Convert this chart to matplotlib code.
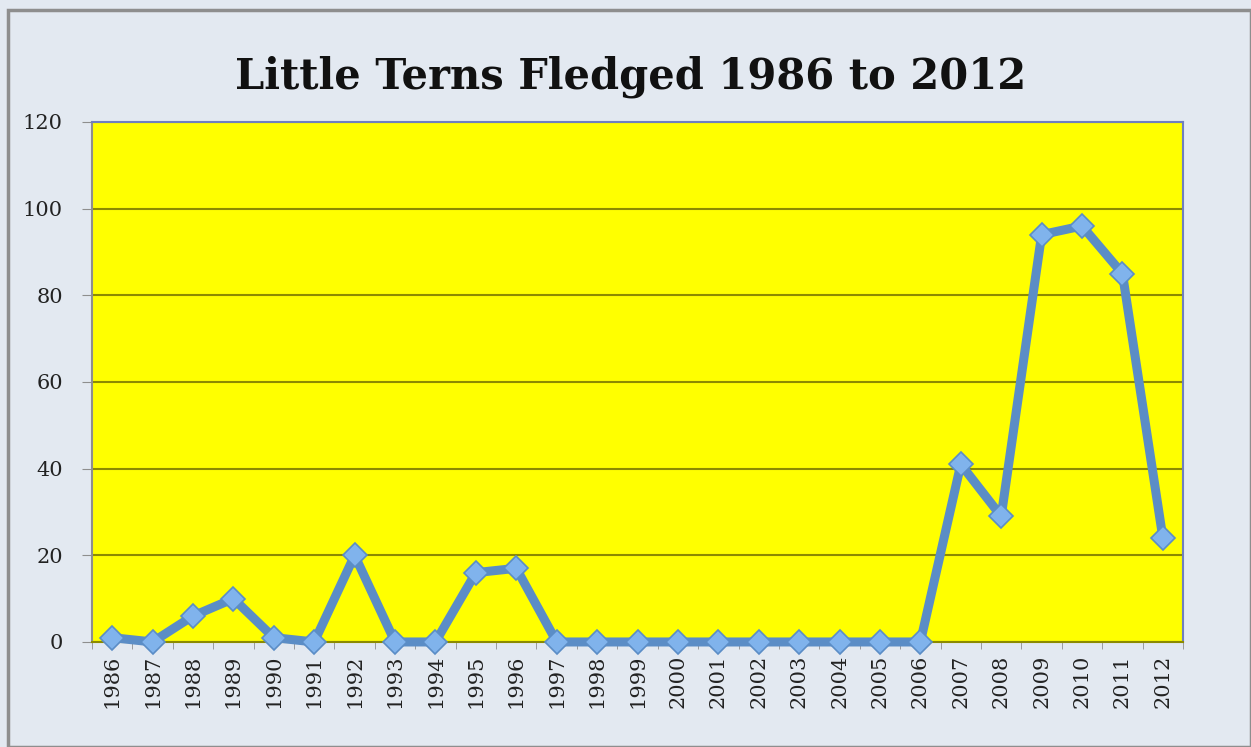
import matplotlib
matplotlib.use("Agg")
import matplotlib.pyplot as plt
from matplotlib.patches import Rectangle

years = [str(y) for y in range(1986, 2013)]
fledged = [1, 0, 6, 10, 1, 0, 20, 0, 0, 16, 17, 0, 0, 0, 0, 0, 0, 0, 0, 0, 0,
           41, 29, 94, 96, 85, 24]
y_ticks = [0, 20, 40, 60, 80, 100, 120]

serif = ["DejaVu Serif", "Liberation Serif"]
bg = "#E3E9F1"

fig = plt.figure(figsize=(12.51, 7.47), dpi=100, facecolor=bg)
fig.patches.append(Rectangle((0.006, 0.0), 0.994, 0.987, transform=fig.transFigure,
                             fill=False, edgecolor="#8E8E8E", linewidth=2.5))
ax = fig.add_axes([0.0735, 0.1406, 0.8722, 0.6961])
ax.set_facecolor("#FFFF00")

x = list(range(len(years)))
ax.plot(x, fledged, color="#5B8DC6", linewidth=6.5, marker="D", markersize=12,
        markerfacecolor="#80B3EC", markeredgecolor="#5B8DC6", markeredgewidth=1.2,
        zorder=3, clip_on=False)

ax.set_xlim(-0.5, len(years) - 0.5)
ax.set_ylim(0, 120)
ax.set_yticks(y_ticks)
ax.set_yticklabels([str(v) for v in y_ticks], fontfamily=serif, fontsize=15, color="#222222")
ax.set_xticks(x)
ax.set_xticklabels(years, rotation=90, fontfamily=serif, fontsize=15, color="#222222")
ax.set_xticks([i + 0.5 for i in range(-1, len(years))], minor=True)
ax.tick_params(axis="x", which="major", length=0, pad=9)
ax.tick_params(axis="x", which="minor", length=5, color="#8E8E8E")
ax.tick_params(axis="y", length=7, color="#8E8E8E", pad=14)

ax.grid(axis="y", color="#8C8A00", linewidth=1.5)
ax.set_axisbelow(True)
ax.spines["left"].set_color("#8E8E8E")
ax.spines["bottom"].set_color("#8C8A00")
ax.spines["top"].set_color("#6F7FBF")
ax.spines["right"].set_color("#6F7FBF")
for s in ax.spines.values():
    s.set_linewidth(1.5)

fig.text(0.504, 0.897, "Little Terns Fledged 1986 to 2012", ha="center", va="center",
         fontfamily=serif, fontsize=30, fontweight="bold", color="#111111")

fig.savefig("out.png", dpi=100, facecolor=bg)
